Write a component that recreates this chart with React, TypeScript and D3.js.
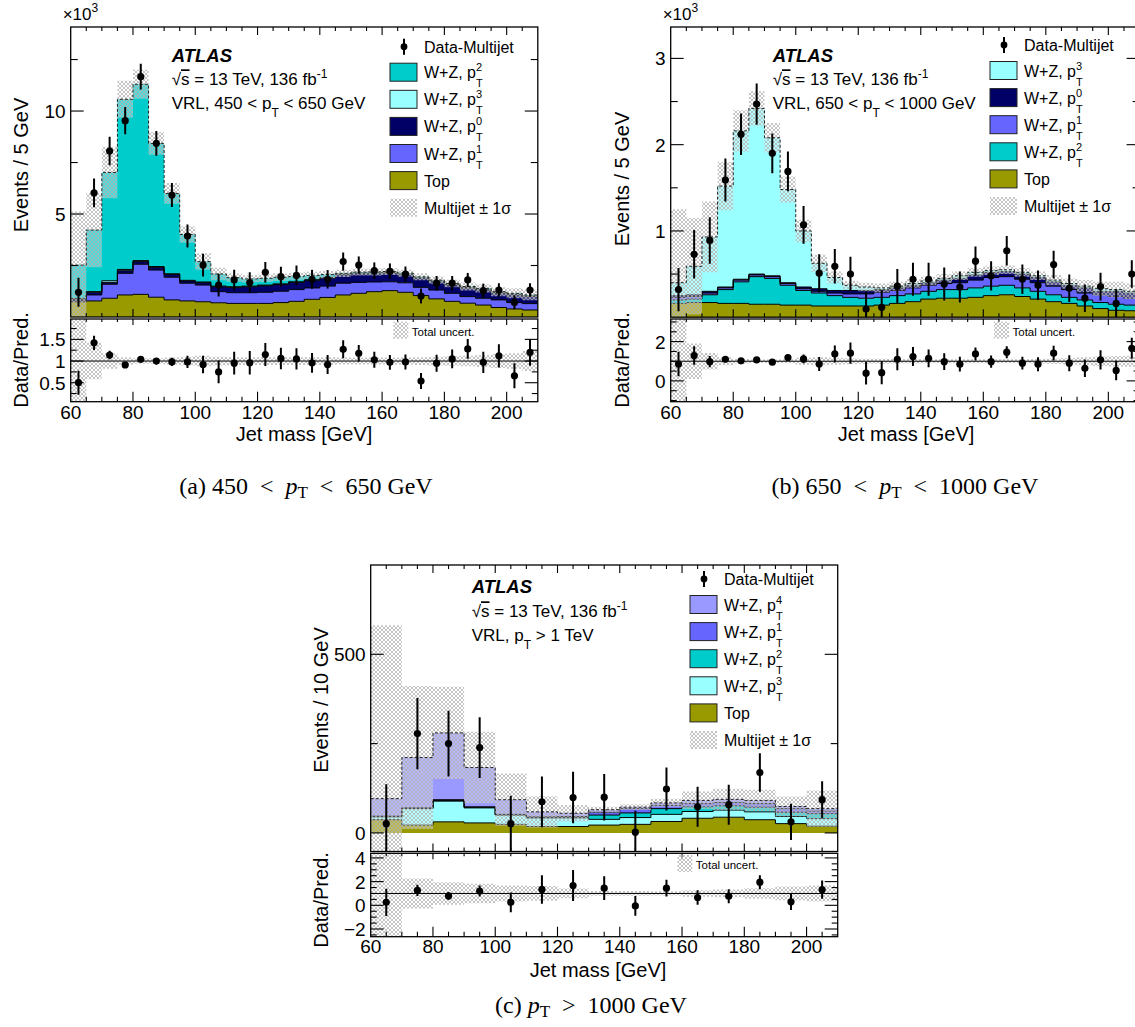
import React from 'react';
import * as d3 from 'd3';

const FONT = "'Liberation Sans', Arial, Helvetica, sans-serif";
const SERIF = "'Liberation Serif', 'Times New Roman', Times, serif";

const C_TOP = '#999900';
const C_P0 = '#000066';
const C_P1 = '#6666ff';
const C_P2 = '#00cccc';
const C_P3 = '#99ffff';
const C_P4 = '#9999ff';

// ---------------- Panel (a): 450 < pT < 650 GeV (values in 10^3 events / 5 GeV) ----------------
const binsA = [60, 65, 70, 75, 80, 85, 90, 95, 100, 105, 110, 115, 120, 125, 130, 135, 140, 145, 150, 155, 160, 165, 170, 175, 180, 185, 190, 195, 200, 205];
const topA = [0.74, 0.78, 0.91, 1.07, 1.10, 0.96, 0.83, 0.78, 0.74, 0.69, 0.66, 0.66, 0.66, 0.70, 0.76, 0.86, 0.95, 1.07, 1.15, 1.23, 1.28, 1.20, 1.04, 0.88, 0.76, 0.67, 0.58, 0.46, 0.39, 0.34];
const wz1A = [0.07, 0.29, 0.68, 1.05, 1.46, 1.32, 1.10, 0.86, 0.81, 0.54, 0.52, 0.52, 0.54, 0.55, 0.57, 0.55, 0.55, 0.57, 0.53, 0.47, 0.43, 0.46, 0.40, 0.43, 0.39, 0.32, 0.33, 0.37, 0.31, 0.31];
const wz0A = [0.05, 0.13, 0.09, 0.13, 0.13, 0.13, 0.14, 0.11, 0.12, 0.24, 0.26, 0.29, 0.32, 0.33, 0.35, 0.37, 0.39, 0.40, 0.42, 0.40, 0.41, 0.38, 0.43, 0.40, 0.40, 0.41, 0.40, 0.32, 0.37, 0.34];
const wz3A = [0.04, 0.03, 0.08, 0.06, 0.05, 0.04, 0.03, 0.03, 0.03, 0.03, 0.03, 0.03, 0.03, 0.03, 0.03, 0.03, 0.03, 0.03, 0.03, 0.04, 0.04, 0.04, 0.03, 0.03, 0.03, 0.03, 0.03, 0.03, 0.03, 0.03];
const wz2A = [1.62, 2.99, 5.26, 8.26, 8.56, 5.98, 3.90, 2.23, 0.99, 0.59, 0.44, 0.35, 0.33, 0.32, 0.26, 0.21, 0.14, 0.05, 0.05, 0.05, 0.05, 0.05, 0.05, 0.05, 0.05, 0.05, 0.05, 0.05, 0.05, 0.05];
const bandA = [2.6, 1.8, 1.25, 0.9, 0.7, 0.55, 0.5, 0.4, 0.4, 0.3, 0.2, 0.18, 0.18, 0.18, 0.18, 0.18, 0.18, 0.18, 0.17, 0.17, 0.17, 0.17, 0.17, 0.18, 0.18, 0.19, 0.2, 0.22, 0.24, 0.26];
const dataA = [1.2, 6.03, 8.06, 9.53, 11.67, 8.43, 5.92, 3.93, 2.52, 1.55, 1.8, 1.67, 2.17, 1.96, 2.02, 1.83, 1.83, 2.69, 2.52, 2.25, 2.22, 2.08, 1.02, 1.64, 1.64, 1.80, 1.28, 1.31, 0.71, 1.31];
const errA = [0.7, 0.7, 0.69, 0.66, 0.63, 0.6, 0.58, 0.56, 0.55, 0.55, 0.5, 0.5, 0.5, 0.48, 0.48, 0.46, 0.45, 0.44, 0.42, 0.4, 0.38, 0.37, 0.36, 0.35, 0.35, 0.34, 0.34, 0.33, 0.33, 0.33];
const ratioA = [0.5, 1.42, 1.14, 0.91, 1.04, 1.0, 0.98, 0.98, 0.92, 0.75, 0.95, 0.96, 1.15, 1.06, 1.05, 0.96, 0.92, 1.27, 1.18, 1.03, 0.97, 0.98, 0.54, 0.95, 1.05, 1.28, 0.97, 1.12, 0.66, 1.2];
const ratioBandA = [1.05, 0.42, 0.18, 0.085, 0.065, 0.065, 0.08, 0.1, 0.12, 0.1, 0.09, 0.09, 0.09, 0.09, 0.09, 0.09, 0.09, 0.08, 0.08, 0.08, 0.08, 0.08, 0.09, 0.1, 0.11, 0.12, 0.14, 0.16, 0.18, 0.23];

// ---------------- Panel (b): 650 < pT < 1000 GeV ----------------
const binsB = [60, 65, 70, 75, 80, 85, 90, 95, 100, 105, 110, 115, 120, 125, 130, 135, 140, 145, 150, 155, 160, 165, 170, 175, 180, 185, 190, 195, 200, 205];
const topB = [0.16, 0.17, 0.17, 0.16, 0.16, 0.15, 0.15, 0.14, 0.14, 0.13, 0.13, 0.13, 0.13, 0.14, 0.16, 0.18, 0.21, 0.22, 0.22, 0.23, 0.25, 0.26, 0.24, 0.21, 0.18, 0.16, 0.13, 0.10, 0.08, 0.075];
const wz2B = [0.04, 0.04, 0.09, 0.16, 0.25, 0.32, 0.30, 0.23, 0.17, 0.15, 0.12, 0.10, 0.09, 0.09, 0.09, 0.09, 0.09, 0.10, 0.10, 0.11, 0.11, 0.11, 0.10, 0.09, 0.08, 0.07, 0.07, 0.07, 0.07, 0.065];
const wz1B = [0.03, 0.03, 0.02, 0.02, 0.02, 0.02, 0.02, 0.02, 0.02, 0.02, 0.03, 0.04, 0.05, 0.06, 0.06, 0.07, 0.07, 0.07, 0.08, 0.09, 0.10, 0.10, 0.10, 0.10, 0.10, 0.09, 0.08, 0.09, 0.09, 0.08];
const wz0B = [0.02, 0.02, 0.02, 0.01, 0.01, 0.01, 0.01, 0.01, 0.02, 0.03, 0.03, 0.04, 0.04, 0.03, 0.03, 0.03, 0.03, 0.04, 0.05, 0.06, 0.06, 0.06, 0.06, 0.06, 0.05, 0.05, 0.06, 0.04, 0.06, 0.06];
const wz3B = [0.15, 0.33, 0.63, 1.17, 1.72, 1.92, 1.60, 1.08, 0.65, 0.295, 0.15, 0.06, 0.04, 0.02, 0.02, 0.02, 0.02, 0.02, 0.03, 0.03, 0.02, 0.02, 0.02, 0.02, 0.02, 0.02, 0.02, 0.03, 0.02, 0.02];
const bandB = [0.85, 0.56, 0.41, 0.28, 0.24, 0.2, 0.17, 0.15, 0.13, 0.1, 0.07, 0.05, 0.05, 0.05, 0.05, 0.05, 0.05, 0.05, 0.05, 0.05, 0.05, 0.05, 0.05, 0.05, 0.06, 0.06, 0.07, 0.08, 0.09, 0.09];
const dataB = [0.32, 0.73, 0.89, 1.59, 2.12, 2.47, 1.90, 1.69, 1.07, 0.51, 0.59, 0.50, 0.095, 0.115, 0.36, 0.44, 0.44, 0.385, 0.35, 0.65, 0.48, 0.77, 0.44, 0.37, 0.61, 0.335, 0.22, 0.355, 0.16, 0.50];
const errB = [0.25, 0.28, 0.27, 0.25, 0.24, 0.24, 0.23, 0.23, 0.22, 0.22, 0.2, 0.2, 0.2, 0.2, 0.2, 0.19, 0.19, 0.19, 0.18, 0.17, 0.17, 0.17, 0.17, 0.17, 0.16, 0.16, 0.16, 0.16, 0.16, 0.16];
const ratioB = [0.86, 1.29, 0.98, 1.1, 1.02, 1.07, 0.95, 1.19, 1.12, 0.86, 1.37, 1.41, 0.39, 0.42, 1.1, 1.24, 1.15, 0.98, 0.85, 1.37, 0.98, 1.46, 0.9, 0.85, 1.41, 0.9, 0.64, 1.07, 0.53, 1.66];
const ratioBandB = [2.2, 0.9, 0.42, 0.2, 0.12, 0.09, 0.09, 0.1, 0.18, 0.2, 0.18, 0.15, 0.13, 0.13, 0.12, 0.11, 0.1, 0.1, 0.1, 0.1, 0.1, 0.1, 0.1, 0.12, 0.14, 0.16, 0.2, 0.24, 0.27, 0.28];

// ---------------- Panel (c): pT > 1000 GeV (events / 10 GeV) ----------------
const binsC = [60, 70, 80, 90, 100, 110, 120, 130, 140, 150, 160, 170, 180, 190, 200];
const topC = [37, 22, 31, 28, 24, 18, 18, 22, 24, 32, 41, 44, 37, 26, 19];
const wz3C = [8, 46, 58, 42, 26, 24, 24, 16, 19, 20, 19, 20, 22, 20, 21];
const wz2C = [1, 1, 2, 2, 1, 1, 2, 12, 13, 16, 13, 12, 13, 12, 14];
const wz1C = [1, 1, 2, 1, 1, 2, 2, 8, 12, 9, 9, 9, 10, 10, 7];
const wz4C = [49, 141, 187, 110, 41, 14, 9, 7, 4, 7, 9, 9, 9, 6, 7];
const bandC = [485, 200, 129, 100, 73, 44, 23, 8, 8, 12, 25, 30, 30, 28, 51];
const dataC = [26, 278, 250, 239, 26, 87, 99, 100, 2, 123, 73, 79, 169, 31, 93];
const errC = [110, 100, 92, 85, 78, 71, 72, 65, 60, 60, 56, 56, 54, 51, 52];
const ratioC = [0.25, 1.26, 0.79, 1.2, 0.25, 1.34, 1.67, 1.45, -0.05, 1.45, 0.66, 0.77, 1.95, 0.3, 1.32];
const ratioBandC = [5, 1.26, 0.95, 0.82, 0.68, 0.62, 0.41, 0.2, 0.2, 0.18, 0.27, 0.33, 0.45, 0.58, 0.68];

const xMajor = [60, 80, 100, 120, 140, 160, 180, 200];
const xMinor = d3.range(60, 211, 5);

type Layer = { values: number[]; color: string };
type LegendRow = { sup: string; color: string };

interface Cfg {
  id: string;
  x0: number; x1: number; mainTop: number; mainBot: number; ratioTop: number; ratioBot: number;
  yDomain: [number, number]; yMajor: number[]; yLabels: string[]; yMinor: number[];
  rDomain: [number, number]; rMajor: number[]; rLabels: string[]; rMinor: number[];
  bins: number[]; binWidth: number;
  layers: Layer[]; band: number[];
  data: number[]; err: number[]; ratio: number[]; ratioBand: number[];
  yTitle: string; yTitleX: number; yTitleY: number; rTitleY: number;
  xTitleX: number; xTitleY: number; xLabelDy: number;
  times10: boolean;
  atlasX: number; atlasY: number; lineGap: number; regionText: React.ReactNode;
  legX: number; legY0: number; legRows: LegendRow[];
  tuX: number; tuY: number;
}

function Ticks({ cfg, x, y, r }: any) {
  const els: React.ReactNode[] = [];
  const { x0, x1, mainTop, mainBot, ratioTop, ratioBot } = cfg;
  const clipX = (v: number) => x(v) > x0 + 0.5 && x(v) < x1 - 0.5;
  xMinor.forEach((v, i) => {
    if (!clipX(v)) return;
    const maj = xMajor.includes(v);
    const xm = x(v);
    const lm = maj ? 8 : 4;
    const lr = maj ? 10 : 5;
    els.push(<line key={'xt' + i} x1={xm} x2={xm} y1={mainTop} y2={mainTop + lm} />);
    els.push(<line key={'xb' + i} x1={xm} x2={xm} y1={mainBot} y2={mainBot - lm} />);
    els.push(<line key={'rt' + i} x1={xm} x2={xm} y1={ratioTop} y2={ratioTop + lr * 0.6} />);
    els.push(<line key={'rb' + i} x1={xm} x2={xm} y1={ratioBot} y2={ratioBot - lr} />);
  });
  const yt = (vals: number[], sc: any, len: number, k: string, lo: number, hi: number) =>
    vals.forEach((v, i) => {
      const yy = sc(v);
      if (yy < lo + 0.5 || yy > hi - 0.5) return;
      els.push(<line key={k + 'l' + i} x1={x0} x2={x0 + len} y1={yy} y2={yy} />);
      els.push(<line key={k + 'r' + i} x1={x1} x2={x1 - len} y1={yy} y2={yy} />);
    });
  yt(cfg.yMajor, y, 13, 'ym', mainTop, mainBot);
  yt(cfg.yMinor, y, 7, 'yn', mainTop, mainBot);
  yt(cfg.rMajor, r, 13, 'rm', ratioTop, ratioBot);
  yt(cfg.rMinor, r, 6, 'rn', ratioTop, ratioBot);
  return <g stroke="#000" strokeWidth={1.1}>{els}</g>;
}

function WZText({ x, y, sup, size = 16 }: { x: number; y: number; sup: string; size?: number }) {
  return (
    <text x={x} y={y} fontSize={size}>
      W+Z, p<tspan dy={9} fontSize={11}>T</tspan>
      <tspan dx={-6.7} dy={-16} fontSize={11}>{sup}</tspan>
    </text>
  );
}

function Panel({ cfg }: { cfg: Cfg }) {
  const { id, x0, x1, mainTop, mainBot, ratioTop, ratioBot, bins, binWidth } = cfg;
  const x = d3.scaleLinear().domain([60, 210]).range([x0, x1]);
  const y = d3.scaleLinear().domain(cfg.yDomain).range([mainBot, mainTop]);
  const r = d3.scaleLinear().domain(cfg.rDomain).range([ratioBot, ratioTop]);
  const n = bins.length;
  const keys = cfg.layers.map((_, k) => 'k' + k);
  const rows = bins.map((b, i) => {
    const o: any = { bin: b };
    cfg.layers.forEach((l, k) => (o['k' + k] = l.values[i]));
    return o;
  });
  const series = d3.stack<any>().keys(keys)(rows);
  const total = rows.map((_, i) => series[series.length - 1][i][1]);
  const edges = [...bins, bins[n - 1] + binWidth];
  const idx = (i: number) => Math.min(i, n - 1);

  const stepArea = (lo: (i: number) => number, hi: (i: number) => number, sc: any) =>
    d3.area<number>()
      .x((e) => x(e))
      .y0((_, i) => sc(lo(idx(i))))
      .y1((_, i) => sc(hi(idx(i))))
      .curve(d3.curveStepAfter)(edges) as string;
  const stepLine = (v: (i: number) => number, sc: any) =>
    d3.line<number>()
      .x((e) => x(e))
      .y((_, i) => sc(v(idx(i))))
      .curve(d3.curveStepAfter)(edges) as string;

  const cx = (i: number) => x(bins[i] + binWidth / 2);

  return (
    <g>
      <defs>
        <clipPath id={'cm' + id}><rect x={x0} y={mainTop} width={x1 - x0} height={mainBot - mainTop} /></clipPath>
        <clipPath id={'cr' + id}><rect x={x0} y={ratioTop} width={x1 - x0} height={ratioBot - ratioTop} /></clipPath>
      </defs>
      {/* main pad */}
      <g clipPath={`url(#cm${id})`}>
        {series.map((s, k) => (
          <path key={'f' + k} d={stepArea((i) => s[i][0], (i) => s[i][1], y)} fill={cfg.layers[k].color} stroke="none" />
        ))}
        {series.map((s, k) =>
          k < series.length - 1 ? (
            <path key={'o' + k} d={stepLine((i) => s[i][1], y)} fill="none" stroke="#000" strokeWidth={1} />
          ) : null
        )}
        <path d={stepArea((i) => total[i] - cfg.band[i], (i) => total[i] + cfg.band[i], y)} fill="url(#hatch)" stroke="none" />
        <path d={stepLine((i) => total[i], y)} fill="none" stroke="#222" strokeWidth={1} strokeDasharray="3,2" />
        {cfg.data.map((d, i) => (
          <g key={'d' + i}>
            <line x1={cx(i)} x2={cx(i)} y1={y(d - cfg.err[i])} y2={y(d + cfg.err[i])} stroke="#000" strokeWidth={2} />
            <circle cx={cx(i)} cy={y(d)} r={3.6} fill="#000" />
          </g>
        ))}
      </g>
      {/* ratio pad */}
      <g clipPath={`url(#cr${id})`}>
        <path d={stepArea((i) => 1 - cfg.ratioBand[i], (i) => 1 + cfg.ratioBand[i], r)} fill="url(#hatch)" stroke="none" />
        <line x1={x0} x2={x1} y1={r(1)} y2={r(1)} stroke="#000" strokeWidth={1} />
        {cfg.ratio.map((d, i) => {
          const e = cfg.err[i] / total[i];
          return (
            <g key={'r' + i}>
              <line x1={cx(i)} x2={cx(i)} y1={r(d - e)} y2={r(d + e)} stroke="#000" strokeWidth={2} />
              <circle cx={cx(i)} cy={r(d)} r={3.6} fill="#000" />
            </g>
          );
        })}
      </g>
      <rect x={x0} y={mainTop} width={x1 - x0} height={mainBot - mainTop} fill="none" stroke="#000" strokeWidth={1.3} />
      <rect x={x0} y={ratioTop} width={x1 - x0} height={ratioBot - ratioTop} fill="none" stroke="#000" strokeWidth={1.3} />
      <Ticks cfg={cfg} x={x} y={y} r={r} />
      {/* axis labels */}
      <g fontSize={19} textAnchor="end">
        {cfg.yMajor.map((v, i) => (
          <text key={'yl' + i} x={x0 - 5} y={y(v) + 7}>{cfg.yLabels[i]}</text>
        ))}
        {cfg.rMajor.map((v, i) => (
          <text key={'rl' + i} x={x0 - 5} y={r(v) + 7}>{cfg.rLabels[i]}</text>
        ))}
      </g>
      <g fontSize={19} textAnchor="middle">
        {xMajor.map((v) => (
          <text key={'xl' + v} x={x(v)} y={ratioBot + cfg.xLabelDy}>{v}</text>
        ))}
      </g>
      {cfg.times10 && (
        <text x={x0 - 8} y={20} fontSize={17}>
          ×10<tspan dy={-8} fontSize={12}>3</tspan>
        </text>
      )}
      <text fontSize={20} textAnchor="middle" transform={`translate(${cfg.yTitleX},${cfg.yTitleY}) rotate(-90)`}>{cfg.yTitle}</text>
      <text fontSize={20} textAnchor="middle" transform={`translate(${cfg.yTitleX},${cfg.rTitleY}) rotate(-90)`}>Data/Pred.</text>
      <text fontSize={20} textAnchor="middle" x={cfg.xTitleX} y={cfg.xTitleY}>Jet mass [GeV]</text>
      {/* ATLAS label */}
      <text x={cfg.atlasX} y={cfg.atlasY} fontSize={18.5} fontWeight="bold" fontStyle="italic">ATLAS</text>
      <text x={cfg.atlasX} y={cfg.atlasY + cfg.lineGap} fontSize={17}>
        √<tspan style={{ textDecoration: 'overline' }}>s</tspan> = 13 TeV, 136 fb<tspan dy={-7} fontSize={12}>-1</tspan>
      </text>
      <text x={cfg.atlasX} y={cfg.atlasY + 2 * cfg.lineGap} fontSize={17}>{cfg.regionText}</text>
      {/* legend */}
      <g>
        <line x1={cfg.legX + 14} x2={cfg.legX + 14} y1={cfg.legY0 - 8} y2={cfg.legY0 + 8} stroke="#000" strokeWidth={2} />
        <circle cx={cfg.legX + 14} cy={cfg.legY0} r={3.4} fill="#000" />
        <text x={cfg.legX + 34} y={cfg.legY0 + 6} fontSize={16}>Data-Multijet</text>
        {cfg.legRows.map((row, k) => {
          const cy = cfg.legY0 + 25.5 + 27.1 * k;
          return (
            <g key={'lg' + k}>
              <rect x={cfg.legX} y={cy - 9} width={27} height={18} fill={row.color} stroke="#222" strokeWidth={1} />
              <WZText x={cfg.legX + 34} y={cy + 6} sup={row.sup} />
            </g>
          );
        })}
        {(() => {
          const cy = cfg.legY0 + 25.5 + 27.1 * cfg.legRows.length;
          const cy2 = cy + 27.1;
          return (
            <g>
              <rect x={cfg.legX} y={cy - 9} width={27} height={18} fill={C_TOP} stroke="#222" strokeWidth={1} />
              <text x={cfg.legX + 34} y={cy + 6} fontSize={16}>Top</text>
              <rect x={cfg.legX} y={cy2 - 9} width={27} height={18} fill="url(#hatch)" />
              <text x={cfg.legX + 34} y={cy2 + 6} fontSize={16}>Multijet ± 1σ</text>
            </g>
          );
        })()}
      </g>
      {/* total uncert legend */}
      <rect x={cfg.tuX} y={cfg.tuY} width={15} height={17} fill="url(#hatch)" />
      <text x={cfg.tuX + 18.5} y={cfg.tuY + 14} fontSize={11.5}>Total uncert.</text>
    </g>
  );
}

const regionA = (
  <>VRL, 450 &lt; p<tspan dy={8} fontSize={12}>T</tspan><tspan dy={-8}> &lt; 650 GeV</tspan></>
);
const regionB = (
  <>VRL, 650 &lt; p<tspan dy={8} fontSize={12}>T</tspan><tspan dy={-8}> &lt; 1000 GeV</tspan></>
);
const regionC = (
  <>VRL, p<tspan dy={8} fontSize={12}>T</tspan><tspan dy={-8}> &gt; 1 TeV</tspan></>
);

const cfgA: Cfg = {
  id: 'a', x0: 70.7, x1: 537.8, mainTop: 27, mainBot: 317, ratioTop: 319, ratioBot: 401.7,
  yDomain: [0, 14.08], yMajor: [5, 10], yLabels: ['5', '10'], yMinor: [2.5, 7.5, 12.5],
  rDomain: [0.062, 1.97], rMajor: [0.5, 1, 1.5], rLabels: ['0.5', '1', '1.5'], rMinor: [0.25, 0.75, 1.25, 1.75],
  bins: binsA, binWidth: 5,
  layers: [
    { values: topA, color: C_TOP }, { values: wz1A, color: C_P1 }, { values: wz0A, color: C_P0 },
    { values: wz3A, color: C_P3 }, { values: wz2A, color: C_P2 },
  ],
  band: bandA, data: dataA, err: errA, ratio: ratioA, ratioBand: ratioBandA,
  yTitle: 'Events / 5 GeV', yTitleX: 28, yTitleY: 165, rTitleY: 360,
  xTitleX: 304, xTitleY: 441, xLabelDy: 17, times10: true,
  atlasX: 171.7, atlasY: 62, lineGap: 23.3, regionText: regionA,
  legX: 390, legY0: 46.7,
  legRows: [{ sup: '2', color: C_P2 }, { sup: '3', color: C_P3 }, { sup: '0', color: C_P0 }, { sup: '1', color: C_P1 }],
  tuX: 393.3, tuY: 321.7,
};

const cfgB: Cfg = {
  id: 'b', x0: 670.7, x1: 1139.6, mainTop: 27, mainBot: 317.2, ratioTop: 319, ratioBot: 401.7,
  yDomain: [0, 3.364], yMajor: [1, 2, 3], yLabels: ['1', '2', '3'], yMinor: [0.5, 1.5, 2.5],
  rDomain: [-1.06, 3.15], rMajor: [0, 2], rLabels: ['0', '2'], rMinor: [-1, -0.5, 0.5, 1, 1.5, 2.5, 3],
  bins: binsB, binWidth: 5,
  layers: [
    { values: topB, color: C_TOP }, { values: wz2B, color: C_P2 }, { values: wz1B, color: C_P1 },
    { values: wz0B, color: C_P0 }, { values: wz3B, color: C_P3 },
  ],
  band: bandB, data: dataB, err: errB, ratio: ratioB, ratioBand: ratioBandB,
  yTitle: 'Events / 5 GeV', yTitleX: 629, yTitleY: 179, rTitleY: 360,
  xTitleX: 906, xTitleY: 441, xLabelDy: 17, times10: true,
  atlasX: 772.7, atlasY: 62, lineGap: 23.3, regionText: regionB,
  legX: 990, legY0: 45,
  legRows: [{ sup: '3', color: C_P3 }, { sup: '0', color: C_P0 }, { sup: '1', color: C_P1 }, { sup: '2', color: C_P2 }],
  tuX: 994, tuY: 321.7,
};

const cfgC: Cfg = {
  id: 'c', x0: 370.7, x1: 837.7, mainTop: 565, mainBot: 851.5, ratioTop: 853.3, ratioBot: 936.7,
  yDomain: [-52, 750], yMajor: [0, 500], yLabels: ['0', '500'], yMinor: [250],
  rDomain: [-2.65, 4.39], rMajor: [-2, 0, 2, 4], rLabels: ['−2', '0', '2', '4'], rMinor: [-2.5, -1.5, -1, -0.5, 0.5, 1, 1.5, 2.5, 3, 3.5],
  bins: binsC, binWidth: 10,
  layers: [
    { values: topC, color: C_TOP }, { values: wz3C, color: C_P3 }, { values: wz2C, color: C_P2 },
    { values: wz1C, color: C_P1 }, { values: wz4C, color: C_P4 },
  ],
  band: bandC, data: dataC, err: errC, ratio: ratioC, ratioBand: ratioBandC,
  yTitle: 'Events / 10 GeV', yTitleX: 328, yTitleY: 700, rTitleY: 900,
  xTitleX: 598, xTitleY: 977, xLabelDy: 16, times10: false,
  atlasX: 471.7, atlasY: 593.3, lineGap: 24, regionText: regionC,
  legX: 690, legY0: 579,
  legRows: [{ sup: '4', color: C_P4 }, { sup: '1', color: C_P1 }, { sup: '2', color: C_P2 }, { sup: '3', color: C_P3 }],
  tuX: 677.3, tuY: 855,
};

const SP = '\u2002';

function Caption({ x, y, pre, rel, post }: { x: number; y: number; pre: string; rel: string; post: string }) {
  return (
    <text x={x} y={y} fontFamily={SERIF} fontSize={24} textAnchor="middle">
      {pre}<tspan fontStyle="italic">p</tspan><tspan dy={4} fontSize={17}>T</tspan><tspan dy={-4}>{SP + rel + SP + post}</tspan>
    </text>
  );
}

export default function App() {
  return (
    <svg width={1135} height={1027} viewBox="0 0 1135 1027" fontFamily={FONT}
      style={{ position: 'absolute', left: 0, top: 0, background: '#fff', display: 'block' }}>
      <defs>
        <pattern id="hatch" width={4} height={4} patternUnits="userSpaceOnUse">
          <rect width={4} height={4} fill="rgba(255,255,255,0.3)" />
          <path d="M0,0L4,4M4,0L0,4" stroke="#b0b0b0" strokeWidth={0.75} />
        </pattern>
      </defs>
      <rect width={1135} height={1027} fill="#fff" />
      <Panel cfg={cfgA} />
      <Panel cfg={cfgB} />
      <Panel cfg={cfgC} />
      <Caption x={306} y={494} pre={'(a) 450' + SP + '<' + SP} rel="<" post="650 GeV" />
      <Caption x={905} y={494} pre={'(b) 650' + SP + '<' + SP} rel="<" post="1000 GeV" />
      <Caption x={591} y={1013} pre="(c) " rel=">" post="1000 GeV" />
    </svg>
  );
}
